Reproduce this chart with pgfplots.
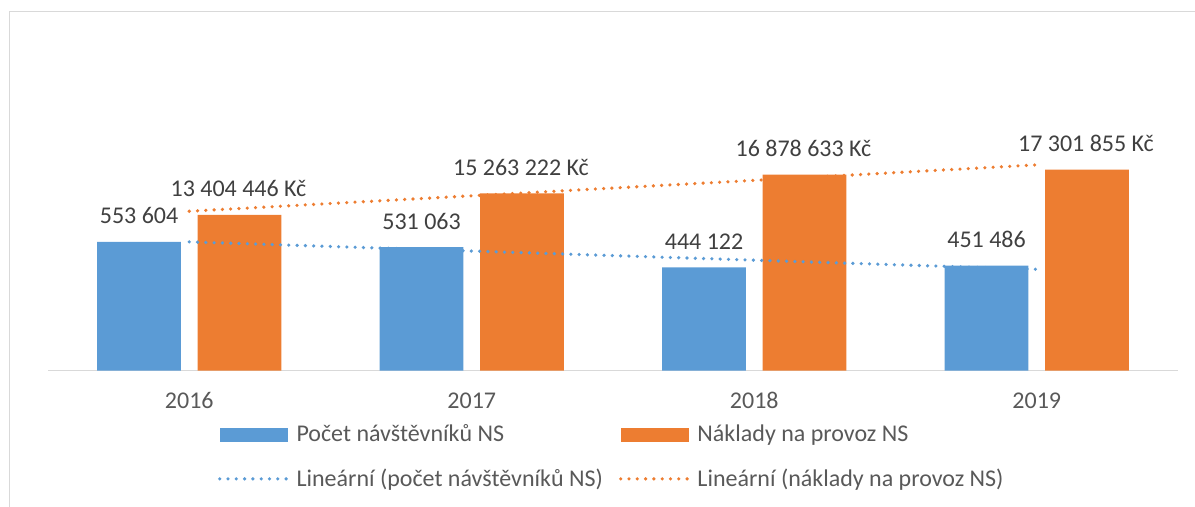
\documentclass[border=0pt]{standalone}
\usepackage{fontspec}
\setmainfont{Carlito}
\usepackage{pgfplots}
\pgfplotsset{compat=1.18}

\definecolor{nsblue}{HTML}{5B9BD5}
\definecolor{nsorange}{HTML}{ED7D31}
\definecolor{lbl}{HTML}{404040}
\definecolor{txt}{HTML}{595959}
\definecolor{frame}{HTML}{D9D9D9}

% 1 px of the reference = 0.5pt
\pgfplotsset{
  nsbase/.style={scale only axis, width=565pt, height=174.35pt,
    at={(24pt,68.15pt)}, anchor=south west,
    xmin=-0.5, xmax=3.5, ymin=0, clip=false},
  nsbars/.style={ybar, bar width=0.297, draw=none,
    point meta=explicit symbolic, nodes near coords,
    every node near coord/.append style={anchor=base, yshift=9pt,
      inner sep=0pt, text=lbl}},
  trend/.style={sharp plot, no marks, line width=1.8pt, line cap=round,
    dash pattern=on 0pt off 4.15pt},
  barleg/.style={draw=none,
    legend image code/.code={\fill[##1] (0pt,-2.75pt) rectangle (34pt,4.1pt);}},
  trendleg/.style={
    legend image code/.code={\draw[##1] (0pt,1.25pt) -- (34pt,1.25pt);}},
}

\begin{document}
\fontsize{12}{14.4}\selectfont
\begin{tikzpicture}
\useasboundingbox (0,0) rectangle (597.5pt,253.5pt);
\draw[frame, line width=0.5pt] (4.5pt,0) -- (4.5pt,247.5pt) -- (597.5pt,247.5pt);

% visitors (primary scale)
\begin{axis}[nsbase, ymax=1500000,
  axis y line=none, axis x line=bottom,
  axis line style={-, draw=frame, line width=0.75pt},
  every outer x axis line/.append style={-},
  xtick={0,1,2,3}, xticklabels={2016,2017,2018,2019},
  major tick length=0pt,
  xticklabel style={anchor=base, yshift=-19pt, text=txt}]
\addplot[nsbars, fill=nsblue, bar shift=-0.178,
  every node near coord/.append style={xshift=-25.1pt}] coordinates {
  (0,553604) [553 604]
  (1,531063) [531 063]
  (2,444122) [444 122]
  (3,451486) [451 486]};
\end{axis}

% costs (secondary scale)
\begin{axis}[nsbase, ymax=30000000, hide axis]
\addplot[nsbars, fill=nsorange, bar shift=0.178,
  every node near coord/.append style={xshift=24.6pt}] coordinates {
  (0,13404446) [13 404 446 Kč]
  (1,15263222) [15 263 222 Kč]
  (2,16878633) [16 878 633 Kč]
  (3,17301855) [17 301 855 Kč]};
\addplot[trend, nsorange] coordinates {(0,13715893) (3,17708185)};
\end{axis}

% visitors trend on top, and the legend
\begin{axis}[nsbase, ymax=1500000, hide axis,
  legend columns=2, legend cell align=left,
  legend style={at={(0.498,-0.1577)}, anchor=north, draw=none, fill=none,
    inner sep=0pt, outer sep=0pt, row sep=12.1pt,
    nodes={inner sep=0pt, text height=8pt, text depth=2.5pt, text=txt},
    /tikz/every odd column/.append style={column sep=3.5pt},
    /tikz/every even column/.append style={column sep=8pt}}]
\addlegendimage{barleg, fill=nsblue}
\addlegendentry{Počet návštěvníků NS}
\addlegendimage{barleg, fill=nsorange}
\addlegendentry{Náklady na provoz NS}
\addplot[trend, trendleg, nsblue] coordinates {(0,554063) (3,436075)};
\addlegendentry{Lineární (počet návštěvníků NS)}
\addlegendimage{trend, trendleg, nsorange}
\addlegendentry{Lineární (náklady na provoz NS)}
\end{axis}
\end{tikzpicture}
\end{document}
